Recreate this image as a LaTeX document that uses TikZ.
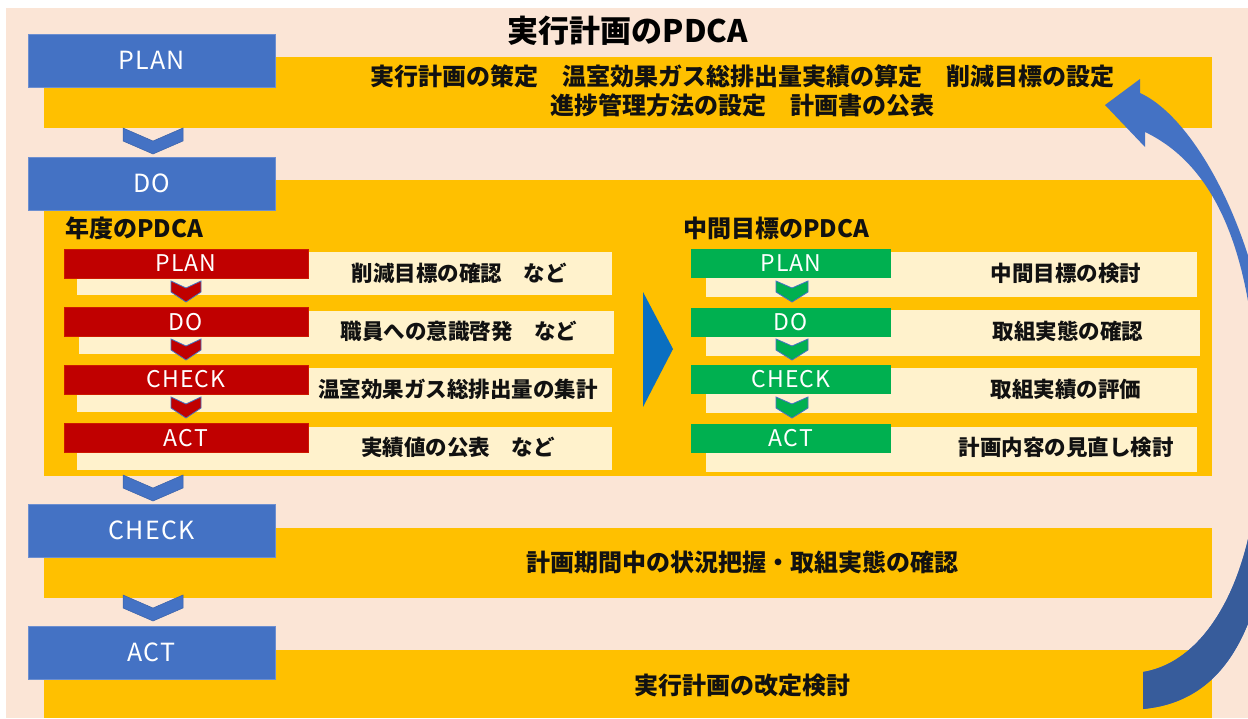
\documentclass[tikz,border=0pt]{standalone}
\usepackage{fontspec}
\setmainfont{Noto Sans CJK JP}
\newfontfamily\jp{Noto Sans CJK JP}
\newfontfamily\latf{Noto Sans CJK JP}[LetterSpace=5]
\definecolor{cPeach}{HTML}{FBE5D6}
\definecolor{cOrange}{HTML}{FFC000}
\definecolor{cCream}{HTML}{FFF2CC}
\definecolor{cBlue}{HTML}{4472C4}
\definecolor{cBlueEdge}{HTML}{6D8FD0}
\definecolor{cBlueDark}{HTML}{375C9B}
\definecolor{cRed}{HTML}{C00000}
\definecolor{cGreen}{HTML}{00B050}
\definecolor{cTri}{HTML}{0A6FC0}
\definecolor{cText}{HTML}{111111}
\newcommand\mychev[7]{\filldraw[#7] (#1-#3,#2) -- (#1,#2+#5) -- (#1+#3,#2) -- (#1+#3,#2+#4) -- (#1,#2+#6) -- (#1-#3,#2+#4) -- cycle;}
\tikzset{
  band/.style={fill=cOrange, inner sep=0pt, minimum width=1168pt},
  bluebox/.style={fill=cBlue, draw=cBlueEdge, line width=0.8pt, inner sep=0pt, minimum width=247pt, minimum height=53pt, text=white, font=\latf\fontsize{25}{25}\selectfont},
  redbox/.style={fill=cRed, draw=cRed!80!orange, line width=0.6pt, inner sep=0pt, minimum width=244pt, minimum height=29pt, text=white, font=\latf\fontsize{23}{23}\selectfont},
  greenbox/.style={fill=cGreen, inner sep=0pt, minimum width=200pt, minimum height=29pt, text=white, font=\latf\fontsize{23}{23}\selectfont},
  cream/.style={fill=cCream, inner sep=0pt},
  bandtext/.style={inner sep=0pt, text=cText, font=\jp\bfseries\fontsize{24}{29}\selectfont, align=center},
  creamtext/.style={inner sep=0pt, text=cText, font=\jp\bfseries\fontsize{21.5}{24}\selectfont},
  headtext/.style={inner sep=0pt, text=cText, font=\jp\bfseries\fontsize{24}{24}\selectfont, anchor=west},
  bchev/.style={fill=cBlue, draw=cBlue!85!black, line width=0.5pt},
  rchev/.style={fill=cRed, draw=cBlue, line width=0.8pt},
  gchev/.style={fill=cGreen, draw=cBlue, line width=0.8pt}
}
\begin{document}
\begin{tikzpicture}[x=1pt,y=-1pt]
\useasboundingbox (0,0) rectangle (1248,718);
\fill[white] (0,0) rectangle (1248,718);
\fill[cPeach] (6,8) rectangle (1248,718);
% title
\node[inner sep=0pt, text=black, font=\jp\bfseries\fontsize{31}{31}\selectfont] (title) at (628,31) {実行計画のPDCA};
% orange bands
\node[band, minimum height=71pt] (bplan) at (628,92.5) {};
\node[band, minimum height=296pt] (bdo) at (628,328) {};
\node[band, minimum height=70pt] (bcheck) at (628,563) {};
\node[band, minimum height=68pt] (bact) at (628,684) {};
% band texts
\node[bandtext] (tplan) at (742,91) {実行計画の策定　温室効果ガス総排出量実績の算定　削減目標の設定\\進捗管理方法の設定　計画書の公表};
\node[bandtext] (tcheck) at (742,562) {計画期間中の状況把握・取組実態の確認};
\node[bandtext] (tact) at (742,685) {実行計画の改定検討};
% blue boxes
\node[bluebox] (plan) at (151.5,60.5) {PLAN};
\node[bluebox] (do) at (151.5,183.5) {DO};
\node[bluebox] (check) at (151.5,530.5) {CHECK};
\node[bluebox] (act) at (151.5,652.5) {ACT};
% headings
\node[headtext] (h1) at (65,228) {年度のPDCA};
\node[headtext] (h2) at (683,228) {中間目標のPDCA};
% left cream
\node[cream, minimum width=535pt, minimum height=43pt] (lc1) at (344.5,273.5) {};
\node[cream, minimum width=535pt, minimum height=43pt] (lc2) at (346.5,332.5) {};
\node[cream, minimum width=535pt, minimum height=44pt] (lc3) at (344.5,390) {};
\node[cream, minimum width=535pt, minimum height=43pt] (lc4) at (344.5,448.5) {};
% right cream
\node[cream, minimum width=491pt, minimum height=45pt] (rc1) at (951.5,274.5) {};
\node[cream, minimum width=494pt, minimum height=46pt] (rc2) at (953,333) {};
\node[cream, minimum width=491pt, minimum height=45pt] (rc3) at (951.5,390.5) {};
\node[cream, minimum width=491pt, minimum height=45pt] (rc4) at (951.5,449.5) {};
% red boxes
\node[redbox] (rplan) at (186,263.5) {PLAN};
\node[redbox] (rdo) at (186,322) {DO};
\node[redbox] (rcheck) at (186,379.5) {CHECK};
\node[redbox] (ract) at (186,438) {ACT};
% green boxes
\node[greenbox] (gplan) at (791,263.5) {PLAN};
\node[greenbox] (gdo) at (791,322) {DO};
\node[greenbox] (gcheck) at (791,379.5) {CHECK};
\node[greenbox] (gact) at (791,438) {ACT};
% cream texts
\node[creamtext] (l1) at (459,273) {削減目標の確認　など};
\node[creamtext] (l2) at (459,331) {職員への意識啓発　など};
\node[creamtext] (l3) at (458,389) {温室効果ガス総排出量の集計};
\node[creamtext] (l4) at (458,447) {実績値の公表　など};
\node[creamtext] (r1) at (1066,273) {中間目標の検討};
\node[creamtext] (r2) at (1068,331) {取組実態の確認};
\node[creamtext] (r3) at (1066,389) {取組実績の評価};
\node[creamtext] (r4) at (1066,447) {計画内容の見直し検討};
% chevrons
\mychev{153}{128}{30}{13}{13}{26}{bchev}
\mychev{153}{475}{30}{13}{13}{26}{bchev}
\mychev{153}{595}{30}{13}{13}{26}{bchev}
\mychev{186}{281}{15}{11}{7}{21}{rchev}
\mychev{186}{339}{15}{11}{7}{21}{rchev}
\mychev{186}{397}{15}{11}{7}{21}{rchev}
\mychev{792}{281}{16}{11}{7}{21}{gchev}
\mychev{792}{339}{16}{11}{7}{21}{gchev}
\mychev{792}{397}{16}{11}{7}{21}{gchev}
% triangle
\fill[cTri] (643,292) -- (673,349) -- (643,407) -- cycle;
% curved arrow
\begin{scope}
\clip (0,0) rectangle (1248,718);
\def\arrowpath{(1143,709) -- (1143,672) .. controls (1215,660) and (1258,560) .. (1258,450) .. controls (1260,300) and (1235,175) .. (1145,132) -- (1145,147) -- (1105,105) -- (1140,79) -- (1140,93) .. controls (1200,120) and (1275,260) .. (1275,430) .. controls (1275,600) and (1240,700) .. (1143,709) -- cycle}
\fill[cBlue] \arrowpath;
\begin{scope}
\clip (1000,470) rectangle (1248,718);
\fill[cBlueDark] \arrowpath;
\end{scope}
\end{scope}
\end{tikzpicture}
\end{document}
